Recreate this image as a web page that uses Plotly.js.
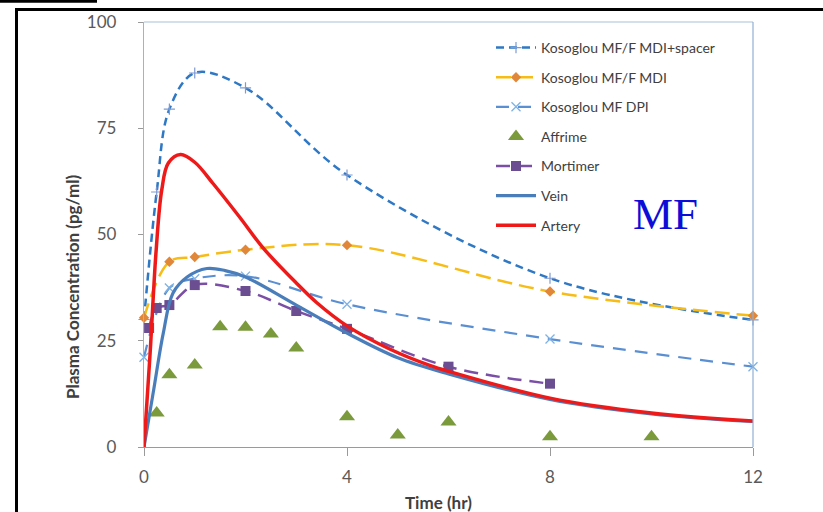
<!DOCTYPE html>
<html><head><meta charset="utf-8">
<script src="https://cdn.plot.ly/plotly-3.0.1.min.js"></script>
<style>html,body{margin:0;padding:0;background:#fff}#chart{width:823px;height:512px}</style>
</head><body><div id="chart"></div>
<script>
// ---- data ----
const spacerT = [0, 0.25, 0.5, 1, 2, 4, 8, 12];
const spacerY = [30, 60, 79.5, 88, 84.5, 64, 39.7, 29.9];
const mdiT = [0, 0.5, 1, 2, 4, 8, 12];
const mdiY = [30.4, 43.6, 44.7, 46.4, 47.5, 36.6, 30.9];
const dpiT = [0, 0.5, 1, 2, 4, 8, 12];
const dpiY = [21.1, 37.4, 39.6, 40.2, 33.6, 25.4, 18.9];
const affT = [0.25, 0.5, 1, 1.5, 2, 2.5, 3, 4, 5, 6, 8, 10];
const affY = [8.0, 17.0, 19.3, 28.3, 28.2, 26.6, 23.3, 7.1, 2.8, 5.9, 2.4, 2.4];
const morT = [0.1, 0.25, 0.5, 1, 2, 3, 4, 6, 8];
const morY = [28.0, 32.7, 33.4, 38.1, 36.7, 32.0, 27.8, 18.9, 14.9];
const veinT = [0, 0.18, 0.38, 0.57, 0.85, 1.24, 1.6, 2, 3, 4, 5, 6, 8, 10, 12];
const veinY = [0, 12.7, 26.8, 36.2, 40, 42, 41.5, 40, 33.4, 26.8, 21, 17.2, 11.2, 7.8, 6];
const artT = [0, 0.12, 0.24, 0.35, 0.48, 0.72, 1.0, 1.36, 1.89, 2.35, 3, 3.4, 4, 4.85, 5.63, 6, 8, 10, 12];
const artY = [0, 22, 46.4, 60.5, 66.8, 68.8, 67, 62, 54, 46.8, 38.6, 34, 28.5, 23, 19.2, 17.8, 11.5, 8, 6.1];
const names = ["Kosoglou MF/F MDI+spacer", "Kosoglou MF/F MDI", "Kosoglou MF DPI", "Affrime", "Mortimer", "Vein", "Artery"];
const xTicks = [0, 4, 8, 12];
const yTicks = [0, 25, 50, 75, 100];

// ---- layout geometry ----
const W = 823, H = 512, mL = 144, mR = 70, mT = 22, mB = 65;
const pw = W - mL - mR, ph = H - mT - mB;
const px = v => (v - mL) / pw;        // pixel x -> paper
const py = v => (H - mB - v) / ph;    // pixel y -> paper

const traces = [
  {x: spacerT, y: spacerY, name: names[0], mode: "lines+markers", line: {shape: "spline", color: "#2f78c4", width: 2.5, dash: "8px,5px"}, marker: {symbol: "cross-thin", size: 8, line: {color: "#7f9ad0", width: 1.2}}},
  {x: mdiT, y: mdiY, name: names[1], mode: "lines+markers", line: {shape: "spline", color: "#f7bc16", width: 2.5, dash: "15px,7px"}, marker: {symbol: "diamond", size: 8, color: "#e0873a"}},
  {x: dpiT, y: dpiY, name: names[2], mode: "lines+markers", line: {shape: "spline", color: "#5a8fd2", width: 2.2, dash: "13px,9px"}, marker: {symbol: "x-thin", size: 9, line: {color: "#7db2e4", width: 1.3}}},
  {x: affT, y: affY, name: names[3], mode: "markers", marker: {symbol: "triangle-up", size: 14, color: "#7a9a3c"}},
  {x: morT, y: morY, name: names[4], mode: "lines+markers", line: {shape: "spline", color: "#7b4fa6", width: 2.5, dash: "14px,8px"}, marker: {symbol: "square", size: 10, color: "#6b4e91"}},
  {x: veinT, y: veinY, name: names[5], mode: "lines", line: {shape: "spline", color: "#4a7ebb", width: 3.2}},
  {x: artT, y: artY, name: names[6], mode: "lines", line: {shape: "spline", color: "#ee1a1a", width: 3.5}}
];
traces.forEach((t, i) => { t.legendgroup = "g" + i; t.type = "scatter"; t.cliponaxis = false; });

const tickFont = {family: "Lato, 'Open Sans', sans-serif", size: 17, color: "#595959"};

const layout = {
  width: W, height: H,
  margin: {l: mL, r: mR, t: mT, b: mB, pad: 0},
  paper_bgcolor: "#ffffff", plot_bgcolor: "#ffffff",
  showlegend: true,
  legend: {x: px(491), y: py(32), xanchor: "left", yanchor: "top", bgcolor: "rgba(0,0,0,0)",
           font: {family: "Lato, 'Open Sans', sans-serif", size: 14, color: "#404040"},
           tracegroupgap: 8.4, itemwidth: 40},
  xaxis: {range: [0, 12], tickvals: xTicks, ticktext: xTicks.map(String), showgrid: false, zeroline: false,
          showline: true, linecolor: "#9a9a9a", linewidth: 1.2, ticks: "outside", ticklen: 8, tickcolor: "#9a9a9a",
          tickfont: tickFont, ticklabelstandoff: 6, fixedrange: true},
  yaxis: {range: [0, 100], tickvals: yTicks, ticktext: yTicks.map(String), showgrid: false, zeroline: false,
          showline: true, linecolor: "#b0b0b0", linewidth: 1.2, ticks: "outside", ticklen: 5, tickcolor: "#9a9a9a",
          tickfont: tickFont, ticklabelstandoff: 18, fixedrange: true},
  shapes: [
    // plot box top and right
    {type: "line", xref: "paper", yref: "paper", x0: 0, x1: 1, y0: 1, y1: 1, line: {color: "#a7bfd8", width: 1.2}},
    {type: "line", xref: "paper", yref: "paper", x0: 1, x1: 1, y0: 0, y1: 1, line: {color: "#8fb0d4", width: 1.2}},
    // black frame
    {type: "line", xref: "paper", yref: "paper", x0: px(15), x1: px(830), y0: py(9.5), y1: py(9.5), line: {color: "#000", width: 3}},
    {type: "line", xref: "paper", yref: "paper", x0: px(16.5), x1: px(16.5), y0: py(8), y1: py(520), line: {color: "#000", width: 3}},
    {type: "line", xref: "paper", yref: "paper", x0: px(-5), x1: px(97), y0: py(1.2), y1: py(1.2), line: {color: "#000", width: 3}}
  ],
  annotations: [
    {text: "MF", xref: "paper", yref: "paper", x: px(665), y: py(214), xanchor: "center", yanchor: "middle", showarrow: false,
     font: {family: "'Liberation Serif', 'DejaVu Serif', serif", size: 45, color: "#0d0dd8"}},
    {text: "<b>Time (hr)</b>", xref: "paper", yref: "paper", x: px(438), y: py(502), xanchor: "center", yanchor: "middle", showarrow: false,
     font: {family: "Lato, 'Open Sans', sans-serif", size: 17, color: "#404040"}},
    {text: "<b>Plasma Concentration (pg/ml)</b>", xref: "paper", yref: "paper", x: px(72), y: py(287), xanchor: "center", yanchor: "middle", textangle: -90, showarrow: false,
     font: {family: "Lato, 'Open Sans', sans-serif", size: 17, color: "#404040"}}
  ]
};

Plotly.newPlot("chart", traces, layout, {staticPlot: true, displayModeBar: false});
</script>
</body></html>
